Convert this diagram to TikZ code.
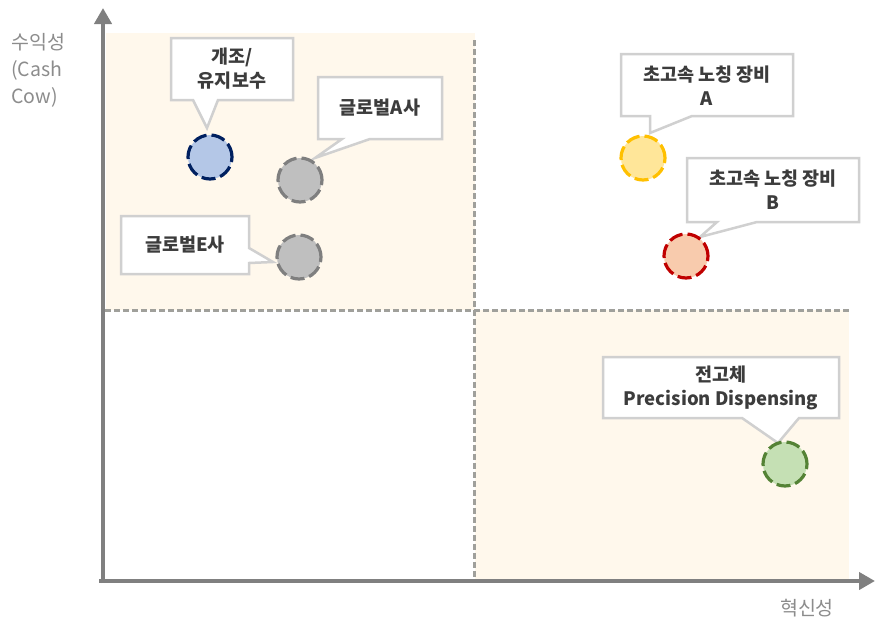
\documentclass[tikz,border=0pt]{standalone}
\usepackage{fontspec}
\setmainfont{Noto Sans CJK KR}
\usepackage{tikz}
\usetikzlibrary{arrows.meta}

\definecolor{axisgray}{RGB}{128,128,128}
\definecolor{dashgray}{RGB}{160,160,155}
\definecolor{boxgray}{RGB}{208,208,208}
\definecolor{textgray}{RGB}{60,60,60}
\definecolor{labelgray}{RGB}{140,140,140}
\definecolor{cream}{RGB}{255,248,236}
\definecolor{navy}{RGB}{0,32,96}
\definecolor{lightblue}{RGB}{180,199,231}
\definecolor{midgray}{RGB}{127,127,127}
\definecolor{lightgray}{RGB}{191,191,191}
\definecolor{gold}{RGB}{255,192,0}
\definecolor{lightgold}{RGB}{255,230,153}
\definecolor{darkred}{RGB}{192,0,0}
\definecolor{peach}{RGB}{248,203,173}
\definecolor{leaf}{RGB}{84,130,53}
\definecolor{lightleaf}{RGB}{197,224,180}

\tikzset{
  axis/.style={draw=axisgray, line width=4pt, -{Triangle[length=16pt, width=17pt]}},
  quadline/.style={draw=dashgray, line width=2.2pt, dash pattern=on 6pt off 3pt},
  dot/.style={circle, minimum size=44pt, inner sep=0pt, line width=3.2pt, dash pattern=on 14pt off 5pt},
  callout/.style={fill=white, draw=boxgray, line width=2.5pt, line join=miter},
  boxtext/.style={align=center, text=textgray, inner sep=0pt, font=\bfseries\fontsize{18.5}{24}\selectfont},
  axistext/.style={text=labelgray, inner sep=0pt, font=\fontsize{19.5}{27}\selectfont}
}

\begin{document}
\begin{tikzpicture}[x=1pt, y=-1pt]

	\fill[white] (0,0) rectangle (875,621);
	\useasboundingbox (0,0) rectangle (875,621);

	% quadrants
	\fill[cream] (106,33) rectangle (475,310);
	\fill[cream] (475,310) rectangle (849,581);
	\draw[quadline] (105,310.5) -- (849,310.5);
	\draw[quadline] (474.5,40) -- (474.5,580);

	% axes
	\coordinate (o) at (103,581);
	\coordinate (xend) at (875,581);
	\coordinate (yend) at (103,8);
	\draw[axis] (99,581) -- (xend);
	\draw[axis] (103,583) -- (yend);

	\node[axistext, anchor=west, align=left] (ylab) at (11,70) {수익성\\(Cash\\Cow)};
	\node[axistext] (xlab) at (807,608) {혁신성};

	% callouts
	\coordinate (tipR) at (207,128);
	\draw[callout] (171,38) -- (293,38) -- (293,100) -- (218,100) -- (tipR) -- (193,100) -- (171,100) -- cycle;
	\node[boxtext] (txtR) at (232,69) {개조/\\유지보수};

	\coordinate (tipGA) at (315,158);
	\draw[callout] (318,77) -- (442,77) -- (442,139) -- (370,139) -- (tipGA) -- (342,139) -- (318,139) -- cycle;
	\node[boxtext] (txtGA) at (380,108) {글로벌A사};

	\coordinate (tipGE) at (273,262);
	\draw[callout] (121,216) -- (249,216) -- (249,248) -- (tipGE) -- (249,263) -- (249,274) -- (121,274) -- cycle;
	\node[boxtext] (txtGE) at (185,245) {글로벌E사};

	\coordinate (tipNA) at (650,133);
	\draw[callout] (621,54) -- (793,54) -- (793,116) -- (692,116) -- (tipNA) -- (650,116) -- (621,116) -- cycle;
	\node[boxtext] (txtNA) at (707,86) {초고속 노칭 장비\\A};

	\coordinate (tipNB) at (700,237);
	\draw[callout] (687,158) -- (859,158) -- (859,222) -- (757,222) -- (tipNB) -- (717,222) -- (687,222) -- cycle;
	\node[boxtext] (txtNB) at (773,190) {초고속 노칭 장비\\B};

	\coordinate (tipSS) at (778,443);
	\draw[callout] (603,357) -- (839,357) -- (839,418) -- (799,418) -- (tipSS) -- (742,418) -- (603,418) -- cycle;
	\node[boxtext] (txtSS) at (721,388) {전고체\\Precision Dispensing};

	% bubbles
	\node[dot, draw=navy, fill=lightblue] (dotR) at (210,157) {};
	\node[dot, draw=midgray, fill=lightgray] (dotGA) at (300,180) {};
	\node[dot, draw=midgray, fill=lightgray] (dotGE) at (299,257) {};
	\node[dot, draw=gold, fill=lightgold] (dotNA) at (643,158) {};
	\node[dot, draw=darkred, fill=peach] (dotNB) at (686,256) {};
	\node[dot, draw=leaf, fill=lightleaf] (dotSS) at (785,464) {};

\end{tikzpicture}
\end{document}
